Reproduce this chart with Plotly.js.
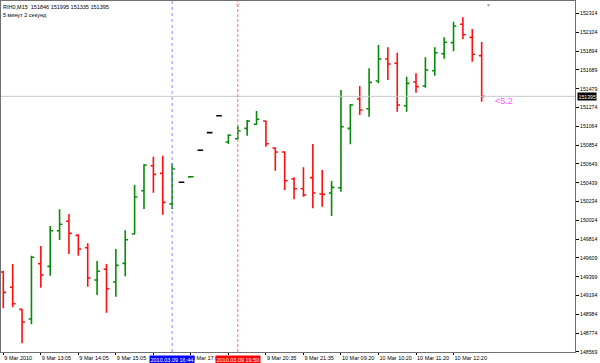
<!DOCTYPE html>
<html>
<head>
<meta charset="utf-8">
<script src="https://cdn.plot.ly/plotly-3.0.1.min.js"></script>
<style>html,body{margin:0;padding:0;background:#fff;}#chart{width:600px;height:363px;}</style>
</head>
<body>
<div id="chart"></div>
<script>
// Bar index (one bar per 15 minutes, plotted sequentially as in the terminal)
const barIndex = Array.from({length: 52}, (_, i) => i);
const opens  = [149451,149282,149038,148931,149543,149514,149908,150012,149857,149720,149362,149481,149340,149547,149872,150351,150627,150543,150204,150444,150504,150798,150993,151181,150890,150926,151041,151086,151122,150823,150779,150480,150373,150495,150314,150325,150384,151041,151366,151258,151565,151808,151761,151291,151554,151509,151679,151867,151989,152192,152048,151846];
const highs  = [149465,149540,149042,149631,149739,149960,150145,150093,149868,149769,149573,149540,149706,149913,150414,150643,150727,150738,150654,150444,150506,150798,150993,151181,150975,151070,151133,151233,151125,150831,150787,150499,150610,150868,150580,150458,151465,151310,151509,151705,151963,151938,151878,151612,151650,151827,151938,152048,152221,152270,152140,151995];
const lows   = [149049,149060,148662,148872,149277,149410,149805,149650,149631,149288,149196,149001,149178,149403,149868,150148,150329,150085,150148,150444,150504,150798,150993,151181,150868,150920,150959,151078,150838,150572,150358,150255,150284,150156,150174,150071,150340,150864,151189,151170,151539,151576,151225,151225,151435,151491,151623,151812,151894,152030,151778,151335];
const closes = [149226,149100,148898,149614,149418,149908,149979,149879,149706,149385,149459,149266,149525,149808,150281,150635,150532,150222,150591,150444,150506,150798,150993,151181,150964,151015,151122,151141,150871,150779,150461,150373,150303,150325,150310,150388,151059,151299,151244,151550,151808,151753,151299,151539,151502,151687,151878,151993,152174,152077,151860,151395];

const symbolHeader = "RIH0,M15  151846 151995 151335 151395";
const timerText = "5 минут 2 секунд";
const priceTicks = [152314,152104,151894,151689,151479,151274,151064,150854,150649,150439,150234,150024,149814,149609,149399,149194,148984,148774,148569];
// labels hidden under the crosshair time boxes in the reference are left blank
const timeTickIdx = [0,4,8,12,16,20,24,28,32,36,40,44,48];
const timeTickText = ["9 Mar 2010","9 Mar 13:05","9 Mar 14:05","9 Mar 15:05","","9 Mar 17:05","","9 Mar 20:35","9 Mar 21:35","10 Mar 09:20","10 Mar 10:20","10 Mar 11:20","10 Mar 12:20"];
const currentPrice = 151395;
const crossBlueIdx = 18, crossBlueText = "2010.03.09 16:44";
const crossRedIdx = 25, crossRedText = "2010.03.09 19:50";
const spreadText = "<5.2";

// split flat (doji, no range) bars into a black trace
const isFlat = barIndex.map(i => opens[i] === closes[i] && highs[i] === lows[i]);
function pick(arr, flat) { return barIndex.filter(i => isFlat[i] === flat).map(i => arr[i]); }

const font = "Liberation Sans, Arial, sans-serif";
const traces = [
  {
    type: 'ohlc',
    x: pick(barIndex, false), open: pick(opens, false), high: pick(highs, false),
    low: pick(lows, false), close: pick(closes, false),
    increasing: {line: {color: '#0a8a0a', width: 1.6}},
    decreasing: {line: {color: '#ff1010', width: 1.6}},
    tickwidth: 0.3, hoverinfo: 'skip', showlegend: false
  },
  {
    type: 'ohlc',
    x: pick(barIndex, true), open: pick(opens, true), high: pick(highs, true),
    low: pick(lows, true), close: pick(closes, true),
    increasing: {line: {color: '#000000', width: 1.6}},
    decreasing: {line: {color: '#000000', width: 1.6}},
    tickwidth: 0.3, hoverinfo: 'skip', showlegend: false
  }
];

const layout = {
  width: 600, height: 363,
  margin: {l: 1, r: 25, t: 1, b: 11, pad: 0, autoexpand: false},
  paper_bgcolor: '#ffffff', plot_bgcolor: '#ffffff',
  showlegend: false,
  font: {family: font, size: 5.5, color: '#000'},
  xaxis: {
    range: [-0.245, 60.95], rangeslider: {visible: false},
    showgrid: false, zeroline: false, automargin: false,
    showline: true, linecolor: '#707070', linewidth: 1, mirror: true,
    tickmode: 'array', tickvals: timeTickIdx, ticktext: timeTickText,
    ticks: 'outside', ticklen: 2, tickcolor: '#000', tickangle: 0,
    ticklabelposition: 'outside right', ticklabeloverflow: 'allow',
    tickfont: {family: font, size: 5.5, color: '#000'},
    fixedrange: true
  },
  yaxis: {
    side: 'right', range: [148566, 152450], automargin: false,
    showgrid: false, zeroline: false,
    showline: true, linecolor: '#707070', linewidth: 1, mirror: true,
    tickmode: 'array', tickvals: priceTicks, ticktext: priceTicks.map(String),
    ticks: 'outside', ticklen: 3, tickcolor: '#000',
    tickfont: {family: font, size: 5.2, color: '#000'},
    fixedrange: true
  },
  shapes: [
    {type: 'line', xref: 'paper', x0: 0, x1: 1, yref: 'y', y0: currentPrice, y1: currentPrice,
     line: {color: '#c8c8c8', width: 1}},
    {type: 'line', xref: 'x', x0: crossBlueIdx, x1: crossBlueIdx, yref: 'paper', y0: 0, y1: 1,
     line: {color: '#8888ff', width: 1, dash: 'dot'}},
    {type: 'line', xref: 'x', x0: crossRedIdx, x1: crossRedIdx, yref: 'paper', y0: 0, y1: 1,
     line: {color: '#ff7070', width: 1, dash: '3px,2px'}}
  ],
  annotations: [
    {xref: 'paper', yref: 'paper', x: 0, y: 1, xanchor: 'left', yanchor: 'top', xshift: 0, yshift: -1,
     text: symbolHeader, showarrow: false, font: {family: font, size: 5.5, color: '#000'}},
    {xref: 'paper', yref: 'paper', x: 0, y: 1, xanchor: 'left', yanchor: 'top', xshift: 0, yshift: -9,
     text: timerText, showarrow: false, font: {family: font, size: 5.5, color: '#000'}},
    {xref: 'paper', yref: 'y', x: 1, y: currentPrice, xanchor: 'left', yanchor: 'middle', xshift: 2,
     text: String(currentPrice), showarrow: false, bgcolor: '#000000', borderpad: 0.5,
     font: {family: font, size: 5.2, color: '#ffffff'}},
    {xref: 'x', yref: 'paper', x: crossBlueIdx, y: 0, xanchor: 'center', yanchor: 'top', yshift: -3,
     text: crossBlueText, showarrow: false, bgcolor: '#0000ff', borderpad: 0.5,
     font: {family: font, size: 5.5, color: '#ffffff'}},
    {xref: 'x', yref: 'paper', x: crossRedIdx, y: 0, xanchor: 'center', yanchor: 'top', yshift: -3,
     text: crossRedText, showarrow: false, bgcolor: '#ff0000', borderpad: 0.5,
     font: {family: font, size: 5.5, color: '#ffffff'}},
    {xref: 'x', yref: 'y', x: 52.2, y: 151340, xanchor: 'left', yanchor: 'middle',
     text: spreadText.replace('<', '&lt;'), showarrow: false, font: {family: font, size: 9, color: '#ff55ff'}},
    {xref: 'x', yref: 'paper', x: 51.75, y: 1, xanchor: 'center', yanchor: 'top', yshift: 1,
     text: '▼', showarrow: false, font: {family: font, size: 5, color: '#a0a0a0'}},
    {xref: 'x', yref: 'paper', x: crossRedIdx, y: 1, xanchor: 'center', yanchor: 'top', yshift: 1,
     text: '▽', showarrow: false, font: {family: font, size: 5, color: '#ff6060'}}
  ]
};

Plotly.newPlot('chart', traces, layout, {displayModeBar: false, staticPlot: true});
</script>
</body>
</html>
